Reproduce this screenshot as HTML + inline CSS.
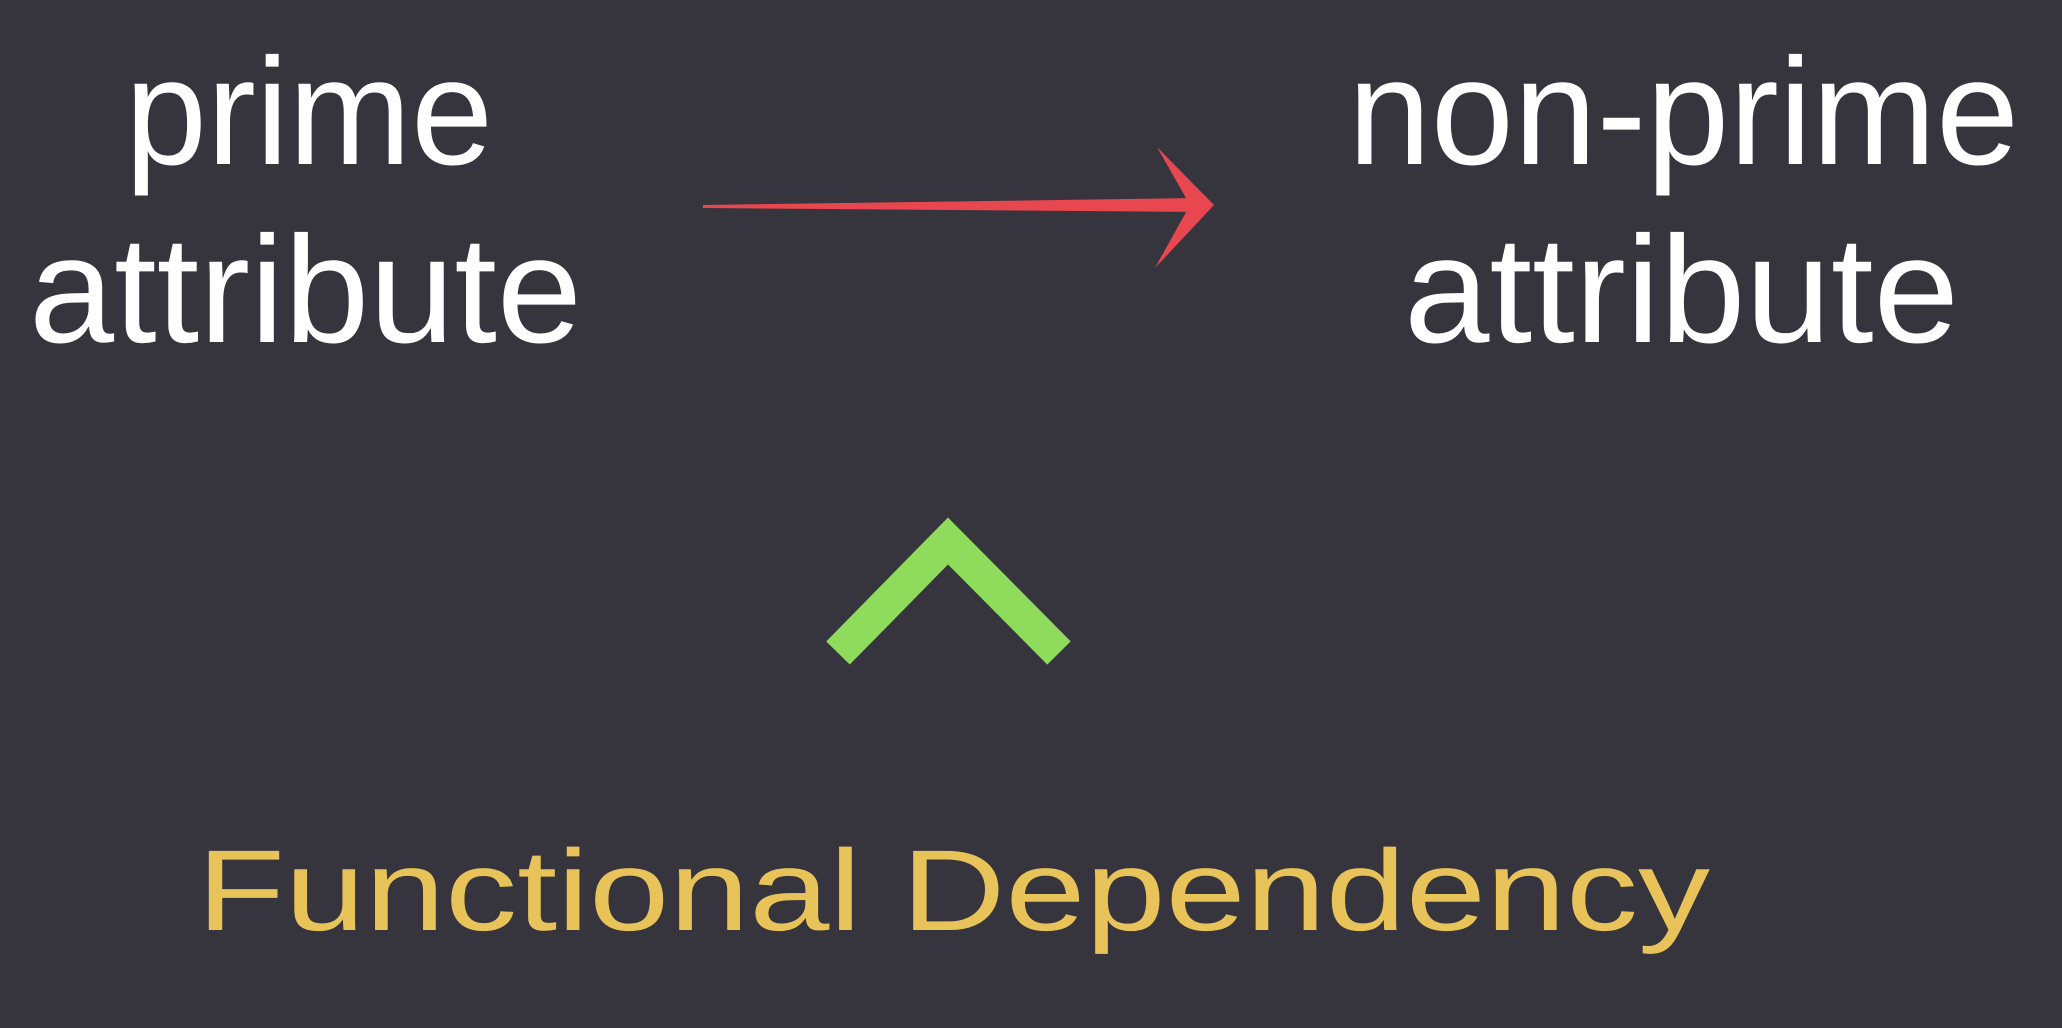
<!DOCTYPE html>
<html>
<head>
<meta charset="utf-8">
<style>
  html, body { margin: 0; padding: 0; background: #36353e; }
  svg { display: block; }
  text { font-family: "Liberation Sans", sans-serif; }
</style>
</head>
<body>
<svg width="2062" height="1028" viewBox="0 0 2062 1028">
  <rect x="0" y="0" width="2062" height="1028" fill="#36353e"/>

  <text x="125" y="164" font-size="152" fill="#ffffff" textLength="368" lengthAdjust="spacingAndGlyphs">prime</text>
  <text x="29" y="342" font-size="152" fill="#ffffff" textLength="553" lengthAdjust="spacingAndGlyphs">attribute</text>

  <text x="1348" y="164" font-size="152" fill="#ffffff" textLength="671" lengthAdjust="spacingAndGlyphs">non-prime</text>
  <text x="1404" y="342" font-size="152" fill="#ffffff" textLength="555" lengthAdjust="spacingAndGlyphs">attribute</text>

  <g>
    <polygon points="703,205 1200,198 1200,212 703,208" fill="#e9474f"/>
    <polygon points="1157,147 1214,205 1155,268 1190,205" fill="#e9474f"/>
  </g>

  <polyline points="838,653 948,541 1059,653" fill="none" stroke="#8fdc5c" stroke-width="33" stroke-linejoin="miter" stroke-linecap="butt"/>

  <text x="197" y="930" font-size="115" fill="#e8c35a" textLength="1513" lengthAdjust="spacingAndGlyphs">Functional Dependency</text>
</svg>
</body>
</html>
